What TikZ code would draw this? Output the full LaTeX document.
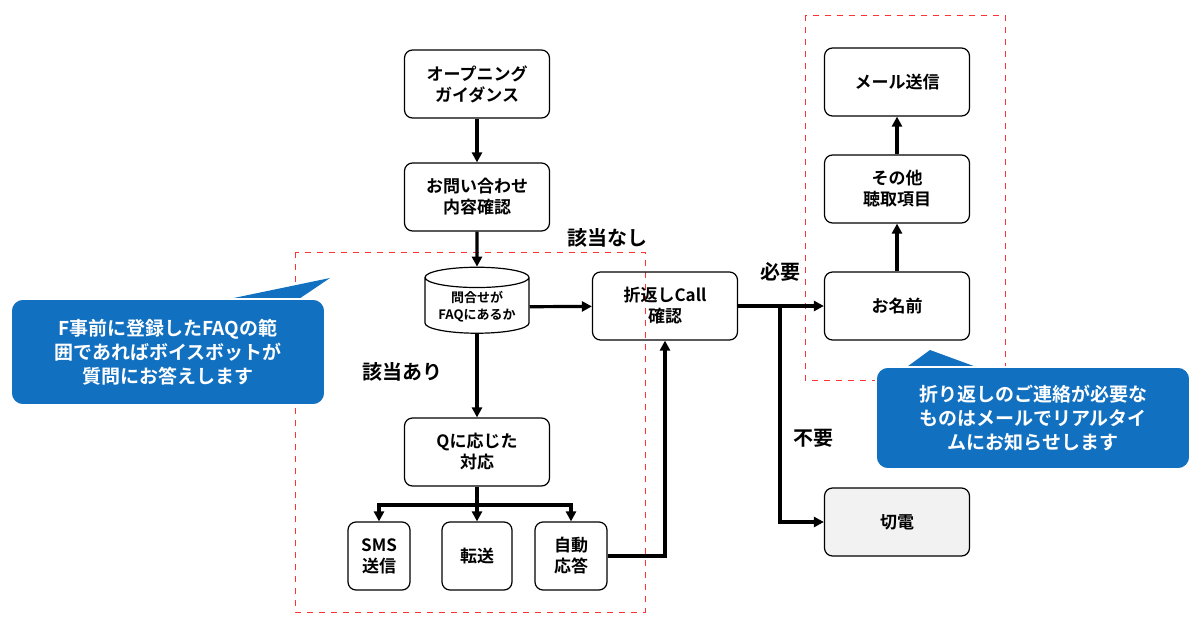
\documentclass[tikz,border=0pt]{standalone}
\usepackage{fontspec}
\setmainfont{Noto Sans CJK JP}[BoldFont={* Bold}]
\usetikzlibrary{shapes.geometric,arrows.meta}
\definecolor{cb}{HTML}{1270C0}
\begin{document}
\begin{tikzpicture}[x=0.5pt,y=-0.5pt,
 box/.style={draw,line width=0.6pt,rounded corners=4pt,minimum width=72.5pt,minimum height=34pt,align=center,font=\fontsize{8.5}{10.5}\selectfont\bfseries},
 sbox/.style={box,minimum width=31pt},
 ar/.style={line width=1.6pt,-{Triangle[length=5pt,width=5pt]}},
 ln/.style={line width=1.6pt},
 rd/.style={draw=red!80,dashed,thin},
 lab/.style={font=\fontsize{10}{12}\selectfont\bfseries},
 call/.style={fill=cb,draw=white,thick,rounded corners=6pt,text=white,align=center,font=\fontsize{9.5}{12}\selectfont\bfseries}]
\useasboundingbox (0,0) rectangle (1200,632);
\draw[rd] (295,252) rectangle (645,612);
\draw[rd] (805,15) rectangle (1005,380);
\node[box] (op) at (477,84) {オープニング\\ガイダンス};
\node[box] (tw) at (477,197) {お問い合わせ\\内容確認};
\node[cylinder,shape border rotate=90,draw,line width=0.6pt,minimum width=52pt,minimum height=33pt,aspect=0.25,align=center,font=\fontsize{6.5}{8.5}\selectfont\bfseries,inner sep=1pt] (faq) at (477,307) {問合せが\\FAQにあるか};
\node[box] (cb) at (665,306) {折返しCall\\確認};
\node[box] (q) at (477,452) {Qに応じた\\対応};
\node[sbox] (sms) at (379,556) {SMS\\送信};
\node[sbox,minimum width=35pt] (tr) at (477,556) {転送};
\node[sbox,minimum width=36pt] (au) at (571,556) {自動\\応答};
\node[box] (nm) at (897,306) {お名前};
\node[box] (ot) at (897,189) {その他\\聴取項目};
\node[box] (ml) at (897,82) {メール送信};
\node[box,fill=black!5] (cut) at (897,522) {切電};
\coordinate (j) at (780,306);
\coordinate (b) at (477,505);
\draw[ar] (op) -- (tw);
\draw[ar] (tw) -- (faq);
\draw[ar] (faq) -- (cb);
\draw[ar] (faq) -- (q);
\draw[ln] (q) -- (b);
\draw[ar] (b) -| (sms);
\draw[ar] (b) -- (tr);
\draw[ar] (b) -| (au);
\draw[ar] (au.east) -| (cb.south);
\draw[ln] (cb) -- (j);
\draw[ar] (j) -- (nm);
\draw[ar] (j) |- (cut);
\draw[ar] (nm) -- (ot);
\draw[ar] (ot) -- (ml);
\node[lab] (l1) at (607,238) {該当なし};
\node[lab] (l2) at (780,272) {必要};
\node[lab] (l3) at (402,372) {該当あり};
\node[lab] (l4) at (813,438) {不要};
\fill[cb] (200,305) -- (330,278) -- (290,305) -- cycle;
\node[call,minimum width=157pt,minimum height=53pt] (c1) at (168,352) {F事前に登録したFAQの範\\囲であればボイスボットが\\質問にお答えします};
\fill[cb] (900,372) -- (930,350) -- (990,372) -- cycle;
\node[call,minimum width=157pt,minimum height=51pt] (c2) at (1033,418) {折り返しのご連絡が必要な\\ものはメールでリアルタイ\\ムにお知らせします};
\end{tikzpicture}
\end{document}
